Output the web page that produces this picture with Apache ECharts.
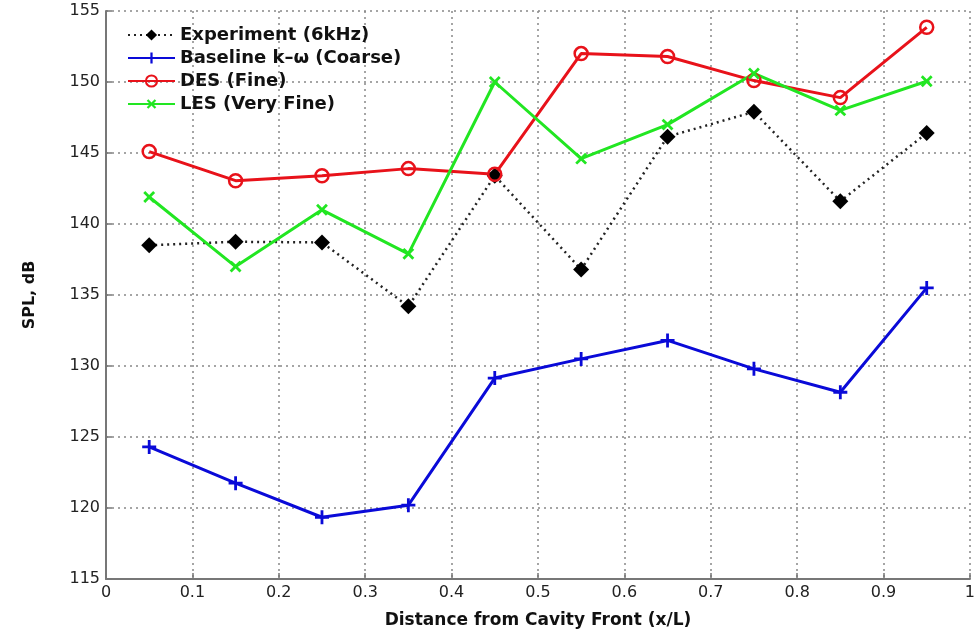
<!DOCTYPE html>
<html>
<head>
<meta charset="utf-8">
<script src="https://cdn.jsdelivr.net/npm/echarts@6/dist/echarts.min.js"></script>
<style>
  html, body { margin: 0; padding: 0; background: #fff; }
  #chart { width: 978px; height: 637px; }
</style>
</head>
<body>
<div id="chart"></div>
<script>
// positions along the cavity (x/L)
var xPos = [0.05, 0.15, 0.25, 0.35, 0.45, 0.55, 0.65, 0.75, 0.85, 0.95];

// SPL values, dB
var experiment = [138.5, 138.75, 138.7, 134.2, 143.4, 136.8, 146.15, 147.9, 141.6, 146.4];
var baseline = [124.3, 121.75, 119.35, 120.2, 129.15, 130.5, 131.8, 129.8, 128.15, 135.5];
var des = [145.1, 143.05, 143.4, 143.9, 143.5, 152.0, 151.8, 150.1, 148.9, 153.85];
var les = [141.9, 137.0, 141.0, 137.9, 150.0, 144.6, 147.0, 150.6, 148.0, 150.05];

var seriesNames = ['Experiment (6kHz)', 'Baseline k\u2013\u03c9 (Coarse)', 'DES (Fine)', 'LES (Very Fine)'];

var plusPath = 'path://M4,0 L6,0 L6,4 L10,4 L10,6 L6,6 L6,10 L4,10 L4,6 L0,6 L0,4 L4,4 Z';

function pairs(vals) {
    var out = [];
    for (var i = 0; i < xPos.length; i++) {
        out.push([xPos[i], vals[i]]);
    }
    return out;
}

var chart = echarts.init(document.getElementById('chart'));

var option = {
    animation: false,
    backgroundColor: '#ffffff',
    grid: { left: 106, right: 2, top: 11, bottom: 58 },
    legend: {
        orient: 'vertical',
        left: 122,
        top: 21,
        itemWidth: 47,
        itemHeight: 14,
        itemGap: 5,
        textStyle: { fontFamily: 'DejaVu Sans', fontWeight: 'bold', fontSize: 18, color: '#111' },
        data: seriesNames
    },
    xAxis: {
        type: 'value',
        min: 0,
        max: 1,
        interval: 0.1,
        name: 'Distance from Cavity Front (x/L)',
        nameLocation: 'middle',
        nameGap: 33,
        nameTextStyle: { fontFamily: 'DejaVu Sans', fontWeight: 'bold', fontSize: 17, color: '#111' },
        axisLine: { lineStyle: { color: '#777', width: 2 } },
        axisTick: { inside: true, length: 6, lineStyle: { color: '#777', width: 1.5 } },
        axisLabel: { fontFamily: 'DejaVu Sans', fontSize: 16, color: '#222', margin: 6 },
        splitLine: { show: true, lineStyle: { color: '#888', width: 1.5, type: [2, 4] } }
    },
    yAxis: {
        type: 'value',
        min: 115,
        max: 155,
        interval: 5,
        name: 'SPL, dB',
        nameLocation: 'middle',
        nameGap: 68,
        nameTextStyle: { fontFamily: 'DejaVu Sans', fontWeight: 'bold', fontSize: 16, color: '#111' },
        axisLine: { show: true, lineStyle: { color: '#777', width: 2 } },
        axisTick: { show: true, inside: true, length: 6, lineStyle: { color: '#777', width: 1.5 } },
        axisLabel: { fontFamily: 'DejaVu Sans', fontSize: 16, color: '#222', margin: 6 },
        splitLine: { show: true, lineStyle: { color: '#888', width: 1.5, type: [2, 4] } }
    },
    series: [
        {
            name: seriesNames[0],
            type: 'line',
            data: pairs(experiment),
            symbol: 'diamond',
            symbolSize: 16,
            itemStyle: { color: '#000' },
            lineStyle: { color: '#222', width: 2.5, type: [2, 4] }
        },
        {
            name: seriesNames[1],
            type: 'line',
            data: pairs(baseline),
            symbol: plusPath,
            symbolSize: 14,
            itemStyle: { color: '#0a0ad8' },
            lineStyle: { color: '#0a0ad8', width: 3 }
        },
        {
            name: seriesNames[2],
            type: 'line',
            data: pairs(des),
            symbol: 'circle',
            symbolSize: 13,
            itemStyle: { color: 'rgba(255,255,255,0)', borderColor: '#e8121a', borderWidth: 2.5 },
            lineStyle: { color: '#e8121a', width: 3 }
        },
        {
            name: seriesNames[3],
            type: 'line',
            data: pairs(les),
            symbol: plusPath,
            symbolRotate: 45,
            symbolSize: 14,
            itemStyle: { color: '#22e622' },
            lineStyle: { color: '#22e622', width: 3 }
        }
    ]
};

chart.setOption(option);
</script>
</body>
</html>
